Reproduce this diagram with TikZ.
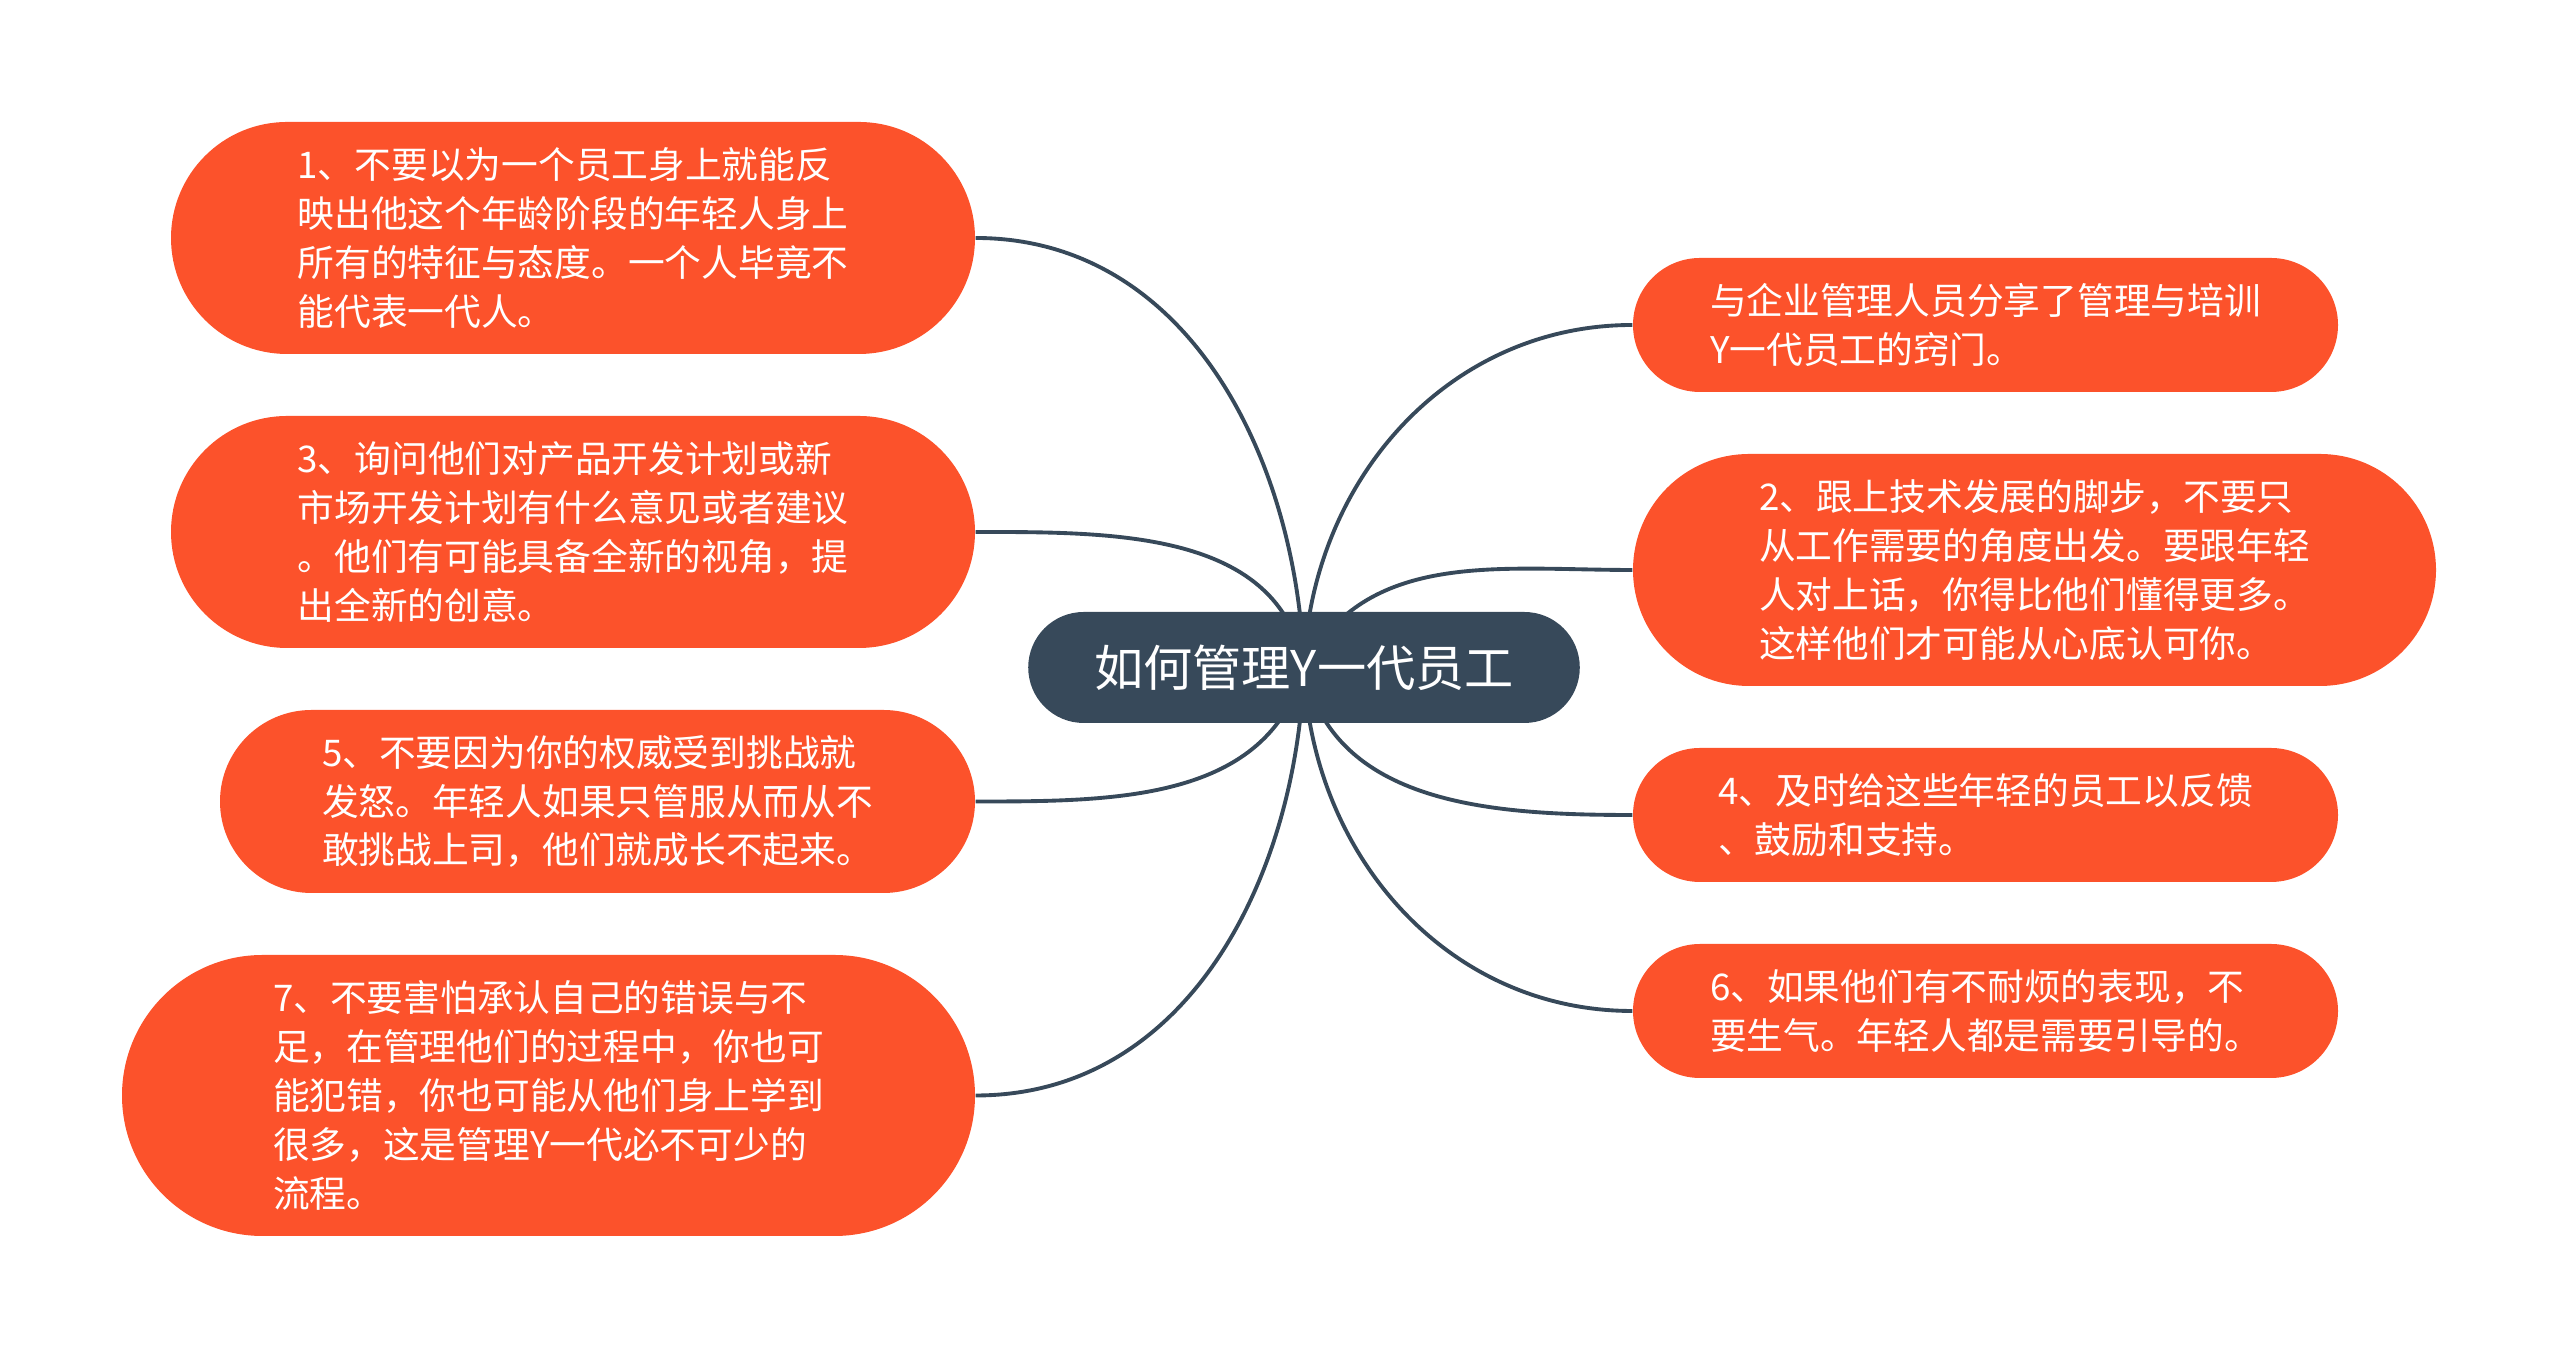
\documentclass[tikz,border=0pt]{standalone}
\usepackage{fontspec}
\setmainfont{Noto Sans CJK SC}
\usepackage{xcolor}
\usetikzlibrary{shapes.misc,backgrounds}

\definecolor{topicred}{RGB}{252,82,43}
\definecolor{rootgray}{RGB}{55,73,90}

\begin{document}
\begin{tikzpicture}[
  idea/.style={rounded rectangle, fill=topicred, text=white, align=left, inner sep=0pt,
    font=\fontsize{10.45pt}{13.9pt}\selectfont},
  link/.style={draw=rootgray, line width=1.1pt}]
\useasboundingbox (0,0) rectangle (25.6,13.6);

\node[rounded rectangle, fill=rootgray, text=white, minimum width=5.75cm, minimum height=1.11cm,
  font=\fontsize{14pt}{16pt}\selectfont] (root) at (13.04,6.925) {如何管理Y一代员工};

% left side
\node[idea, minimum width=8.04cm, minimum height=2.32cm] (n1) at (5.73,11.22)
  {1、不要以为一个员工身上就能反\\映出他这个年龄阶段的年轻人身上\\所有的特征与态度。一个人毕竟不\\能代表一代人。};
\node[idea, minimum width=8.04cm, minimum height=2.32cm] (n3) at (5.73,8.28)
  {3、询问他们对产品开发计划或新\\市场开发计划有什么意见或者建议\\。他们有可能具备全新的视角，提\\出全新的创意。};
\node[idea, minimum width=7.55cm, minimum height=1.83cm] (n5) at (5.975,5.585)
  {5、不要因为你的权威受到挑战就\\发怒。年轻人如果只管服从而从不\\敢挑战上司，他们就成长不起来。};
\node[idea, minimum width=8.53cm, minimum height=2.81cm] (n7) at (5.485,2.645)
  {7、不要害怕承认自己的错误与不\\足，在管理他们的过程中，你也可\\能犯错，你也可能从他们身上学到\\很多，这是管理Y一代必不可少的\\流程。};

% right side
\node[idea, minimum width=7.05cm, minimum height=1.34cm] (r0) at (19.855,10.35)
  {与企业管理人员分享了管理与培训\\Y一代员工的窍门。};
\node[idea, minimum width=8.03cm, minimum height=2.32cm] (n2) at (20.345,7.90)
  {2、跟上技术发展的脚步，不要只\\从工作需要的角度出发。要跟年轻\\人对上话，你得比他们懂得更多。\\这样他们才可能从心底认可你。};
\node[idea, minimum width=7.05cm, minimum height=1.34cm] (n4) at (19.855,5.45)
  {4、及时给这些年轻的员工以反馈\\、鼓励和支持。};
\node[idea, minimum width=7.05cm, minimum height=1.34cm] (n6) at (19.855,3.49)
  {6、如果他们有不耐烦的表现，不\\要生气。年轻人都是需要引导的。};

\begin{pgfonlayer}{background}
  \path[link] (root.center) to[out=92, in=0] (n1.east);
  \path[link] (root.center) to[out=100, in=0] (n3.east);
  \path[link] (root.center) to[out=255, in=0] (n5.east);
  \path[link] (root.center) to[out=268, in=0] (n7.east);
  \path[link] (root.center) to[out=88, in=180] (r0.west);
  \path[link] (root.center) to[out=62, in=180] (n2.west);
  \path[link] (root.center) to[out=-78, in=180] (n4.west);
  \path[link] (root.center) to[out=-88, in=180] (n6.west);
\end{pgfonlayer}
\end{tikzpicture}
\end{document}
